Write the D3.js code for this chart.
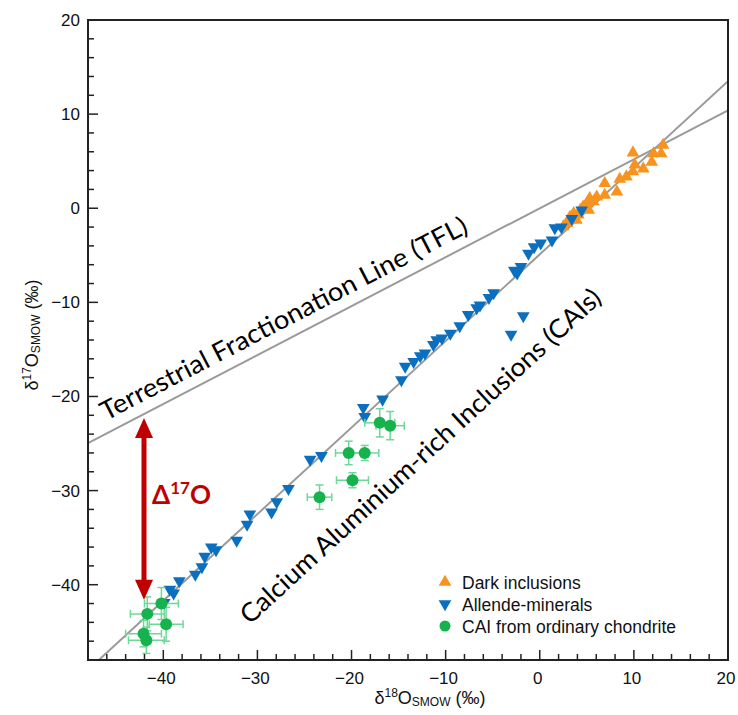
<!DOCTYPE html>
<html><head><meta charset="utf-8">
<script src="https://cdn.jsdelivr.net/npm/d3@7"></script>
<style>body{margin:0;background:#fff}</style>
</head><body>
<svg id="c" width="738" height="715"></svg>
<script>
// ---- data ----
const xTickValues = [-40, -30, -20, -10, 0, 10, 20];
const yTickValues = [-40, -30, -20, -10, 0, 10, 20];
const xDomain = [-48, 20];
const yDomain = [-48, 20];

const darkInclusions = [
  [9.9, 5.9], [12.1, 5.8], [13.1, 6.7], [12.9, 5.8], [11.9, 4.9], [11.0, 4.2],
  [10.1, 4.6], [9.9, 3.9], [9.2, 3.35], [8.5, 3.1], [8.2, 1.75], [6.9, 2.65],
  [6.9, 1.4], [6.05, 1.2], [5.7, 0.7], [5.3, 1.05], [5.0, 0.5], [4.6, 0.15],
  [4.3, -0.2], [5.2, -0.2], [4.1, -0.7], [3.6, -0.55], [3.2, -0.95], [3.9, -1.25],
  [2.9, -1.6], [2.5, -1.95]
];

const allendeMinerals = [
  [-39.9, -41.9], [-39.3, -40.5], [-38.9, -40.9], [-38.3, -39.6], [-36.6, -38.9],
  [-35.9, -38.1], [-35.6, -37.0], [-34.9, -36.0], [-34.4, -36.3], [-32.2, -35.3],
  [-31.1, -33.6], [-30.8, -32.5], [-28.5, -32.3], [-27.95, -31.2], [-26.7, -29.8],
  [-24.4, -26.7], [-23.2, -26.3], [-18.75, -21.2], [-18.6, -22.15], [-16.7, -20.3],
  [-14.7, -18.25], [-14.3, -16.8], [-13.4, -16.3], [-12.7, -15.7], [-12.2, -15.4],
  [-11.3, -14.5], [-10.95, -14.0], [-10.4, -13.8], [-9.5, -13.3], [-8.5, -12.5],
  [-7.6, -11.3], [-6.7, -10.6], [-6.35, -10.3], [-5.4, -9.5], [-4.9, -9.0],
  [-2.7, -6.6], [-2.4, -6.9], [-2.0, -6.2], [-1.2, -4.8], [-0.6, -4.1],
  [0.1, -3.7], [1.3, -3.4], [1.6, -2.1], [2.3, -2.0], [3.4, -1.1], [4.45, -0.2],
  [-1.75, -11.45], [-3.05, -13.4]
];

// [d18O, d17O, err18, err17]
const caiOrdinaryChondrite = [
  [-17.0, -22.8, 1.6, 1.5], [-15.9, -23.1, 1.5, 1.5], [-20.3, -26.0, 1.4, 1.25],
  [-18.6, -26.0, 1.5, 0.8], [-19.9, -28.9, 1.7, 0.8], [-23.4, -30.7, 1.3, 1.3],
  [-41.7, -43.1, 1.8, 1.8], [-40.2, -42.0, 1.8, 1.7], [-39.7, -44.2, 1.8, 1.8],
  [-42.1, -45.2, 1.9, 1.4], [-41.8, -45.9, 1.9, 1.4]
];

const tflLine = { slope: 0.52, intercept: 0 };
const caiLine = { slope: 0.92, intercept: -4.9 };

const legendLabels = ["Dark inclusions", "Allende-minerals", "CAI from ordinary chondrite"];
const colors = { dark: "#f7931e", allende: "#0b6fbf", cai: "#16b24d", caiErr: "#6fd897", arrow: "#c00000", line: "#9a9a9a" };

// ---- chart ----
const margin = { left: 88, right: 10, top: 20, bottom: 55 };
const W = 738, H = 715;
const svg = d3.select("#c");
const x = d3.scaleLinear().domain(xDomain).range([margin.left, W - margin.right]);
const y = d3.scaleLinear().domain(yDomain).range([H - margin.bottom, margin.top]);
const axisFont = "'Liberation Sans', Arial, Helvetica, sans-serif";
const annFont = "Lato, 'Open Sans', sans-serif";

svg.append("defs").append("clipPath").attr("id", "clip")
  .append("rect").attr("x", x(xDomain[0])).attr("y", y(yDomain[1]))
  .attr("width", x(xDomain[1]) - x(xDomain[0])).attr("height", y(yDomain[0]) - y(yDomain[1]));

const plot = svg.append("g").attr("clip-path", "url(#clip)");

// reference lines
[tflLine, caiLine].forEach(l => {
  plot.append("line")
    .attr("x1", x(xDomain[0])).attr("y1", y(l.slope * xDomain[0] + l.intercept))
    .attr("x2", x(xDomain[1])).attr("y2", y(l.slope * xDomain[1] + l.intercept))
    .attr("stroke", colors.line).attr("stroke-width", 2);
});

// axes
const minorX = d3.range(-48, 20.01, 2);
const minorY = d3.range(-48, 20.01, 2);
const xAxis = d3.axisBottom(x).tickValues(xTickValues).tickSize(0).tickPadding(12).tickFormat(d3.format("d"));
const yAxis = d3.axisLeft(y).tickValues(yTickValues).tickSize(0).tickPadding(8).tickFormat(d3.format("d"));
const gx = svg.append("g").attr("transform", `translate(0,${y(yDomain[0])})`).call(xAxis);
const gy = svg.append("g").attr("transform", `translate(${x(xDomain[0])},0)`).call(yAxis);
[gx, gy].forEach(g => {
  g.select(".domain").remove();
  g.selectAll("text").attr("font-family", axisFont).attr("font-size", 17).attr("fill", "#111");
});
gx.selectAll("text").attr("dx", "-0.15em");

// inner ticks
svg.append("g").selectAll("line").data(minorX).join("line")
  .attr("x1", d => x(d)).attr("x2", d => x(d))
  .attr("y1", y(yDomain[0])).attr("y2", d => y(yDomain[0]) - (d % 10 === 0 ? 10 : 6))
  .attr("stroke", "#222").attr("stroke-width", 1.5);
svg.append("g").selectAll("line").data(minorY).join("line")
  .attr("y1", d => y(d)).attr("y2", d => y(d))
  .attr("x1", x(xDomain[0])).attr("x2", d => x(xDomain[0]) + (d % 10 === 0 ? 10 : 6))
  .attr("stroke", "#222").attr("stroke-width", 1.5);

// frame
svg.append("rect").attr("x", x(xDomain[0])).attr("y", y(yDomain[1]))
  .attr("width", x(xDomain[1]) - x(xDomain[0])).attr("height", y(yDomain[0]) - y(yDomain[1]))
  .attr("fill", "none").attr("stroke", "#222").attr("stroke-width", 2);

// symbols
const triSize = 70;
const tri = d3.symbol().type(d3.symbolTriangle).size(triSize);

plot.append("g").selectAll("path").data(darkInclusions).join("path")
  .attr("d", tri).attr("transform", d => `translate(${x(d[0])},${y(d[1])})`)
  .attr("fill", colors.dark);

plot.append("g").selectAll("path").data(allendeMinerals).join("path")
  .attr("d", tri).attr("transform", d => `translate(${x(d[0])},${y(d[1])}) rotate(180)`)
  .attr("fill", colors.allende);

// CAI with error bars
const eb = plot.append("g").attr("stroke", colors.caiErr).attr("stroke-width", 1.5);
const cap = 4;
caiOrdinaryChondrite.forEach(d => {
  const cx = x(d[0]), cy = y(d[1]);
  const x0 = x(d[0] - d[2]), x1 = x(d[0] + d[2]);
  const y0 = y(d[1] - d[3]), y1 = y(d[1] + d[3]);
  eb.append("line").attr("x1", x0).attr("x2", x1).attr("y1", cy).attr("y2", cy);
  eb.append("line").attr("x1", cx).attr("x2", cx).attr("y1", y0).attr("y2", y1);
  eb.append("line").attr("x1", x0).attr("x2", x0).attr("y1", cy - cap).attr("y2", cy + cap);
  eb.append("line").attr("x1", x1).attr("x2", x1).attr("y1", cy - cap).attr("y2", cy + cap);
  eb.append("line").attr("x1", cx - cap).attr("x2", cx + cap).attr("y1", y0).attr("y2", y0);
  eb.append("line").attr("x1", cx - cap).attr("x2", cx + cap).attr("y1", y1).attr("y2", y1);
});
plot.append("g").selectAll("circle").data(caiOrdinaryChondrite).join("circle")
  .attr("cx", d => x(d[0])).attr("cy", d => y(d[1])).attr("r", 6)
  .attr("fill", colors.cai);

// annotations along lines
const tflAngle = Math.atan(tflLine.slope) * 180 / Math.PI;
const caiAngle = Math.atan(caiLine.slope) * 180 / Math.PI;
svg.append("text")
  .attr("transform", `translate(${x(-46.1)},${y(-22.6)}) rotate(${-tflAngle})`)
  .attr("font-family", annFont).attr("font-size", 26).attr("fill", "#000")
  .attr("textLength", 410).attr("lengthAdjust", "spacingAndGlyphs")
  .text("Terrestrial Fractionation Line (TFL)");
svg.append("text")
  .attr("transform", `translate(${x(-30.8)},${y(-44.3)}) rotate(${-caiAngle})`)
  .attr("font-family", annFont).attr("font-size", 26).attr("fill", "#000")
  .attr("textLength", 480).attr("lengthAdjust", "spacingAndGlyphs")
  .text("Calcium Aluminium-rich Inclusions (CAIs)");

// Delta arrow
const ax = -42.05, aTop = -22.3, aBot = -41.6;
const headL = 20, headW = 9;
svg.append("line").attr("x1", x(ax)).attr("x2", x(ax))
  .attr("y1", y(aTop) + headL - 1).attr("y2", y(aBot) - headL + 1)
  .attr("stroke", colors.arrow).attr("stroke-width", 5);
svg.append("path")
  .attr("d", `M${x(ax)},${y(aTop)} L${x(ax) - headW},${y(aTop) + headL} L${x(ax) + headW},${y(aTop) + headL} Z`)
  .attr("fill", colors.arrow);
svg.append("path")
  .attr("d", `M${x(ax)},${y(aBot)} L${x(ax) - headW},${y(aBot) - headL} L${x(ax) + headW},${y(aBot) - headL} Z`)
  .attr("fill", colors.arrow);
const dl = svg.append("text").attr("x", x(-41.2)).attr("y", y(-31.4))
  .attr("font-family", annFont).attr("font-weight", "bold").attr("font-size", 26).attr("fill", colors.arrow);
dl.append("tspan").text("Δ");
dl.append("tspan").attr("font-size", 17).attr("dy", -10).text("17");
dl.append("tspan").attr("dy", 10).text("O");

// legend
const lg = svg.append("g").attr("transform", `translate(445,582)`);
const rowH = 22;
lg.append("path").attr("d", tri).attr("fill", colors.dark).attr("transform", `translate(0,0)`);
lg.append("path").attr("d", tri).attr("fill", colors.allende).attr("transform", `translate(0,${rowH}) rotate(180)`);
lg.append("circle").attr("r", 5.5).attr("cx", 0).attr("cy", 2 * rowH).attr("fill", colors.cai);
legendLabels.forEach((t, i) => {
  lg.append("text").attr("x", 17).attr("y", i * rowH + 6.5).attr("font-family", axisFont)
    .attr("font-size", 17.5).attr("fill", "#111").text(t);
});

// axis titles
const xt = svg.append("text").attr("x", 430).attr("y", 704).attr("text-anchor", "middle")
  .attr("font-family", axisFont).attr("font-size", 18).attr("fill", "#111");
xt.append("tspan").text("δ");
xt.append("tspan").attr("font-size", 12).attr("dy", -7).text("18");
xt.append("tspan").attr("dy", 7).text("O");
xt.append("tspan").attr("font-size", 12).attr("dy", 2).text("SMOW");
xt.append("tspan").attr("dy", -2).text(" (‰)");

const yt = svg.append("text").attr("transform", `translate(38,335) rotate(-90)`).attr("text-anchor", "middle")
  .attr("font-family", axisFont).attr("font-size", 18).attr("fill", "#111");
yt.append("tspan").text("δ");
yt.append("tspan").attr("font-size", 12).attr("dy", -7).text("17");
yt.append("tspan").attr("dy", 7).text("O");
yt.append("tspan").attr("font-size", 12).attr("dy", 2).text("SMOW");
yt.append("tspan").attr("dy", -2).text(" (‰)");
</script>
</body></html>
